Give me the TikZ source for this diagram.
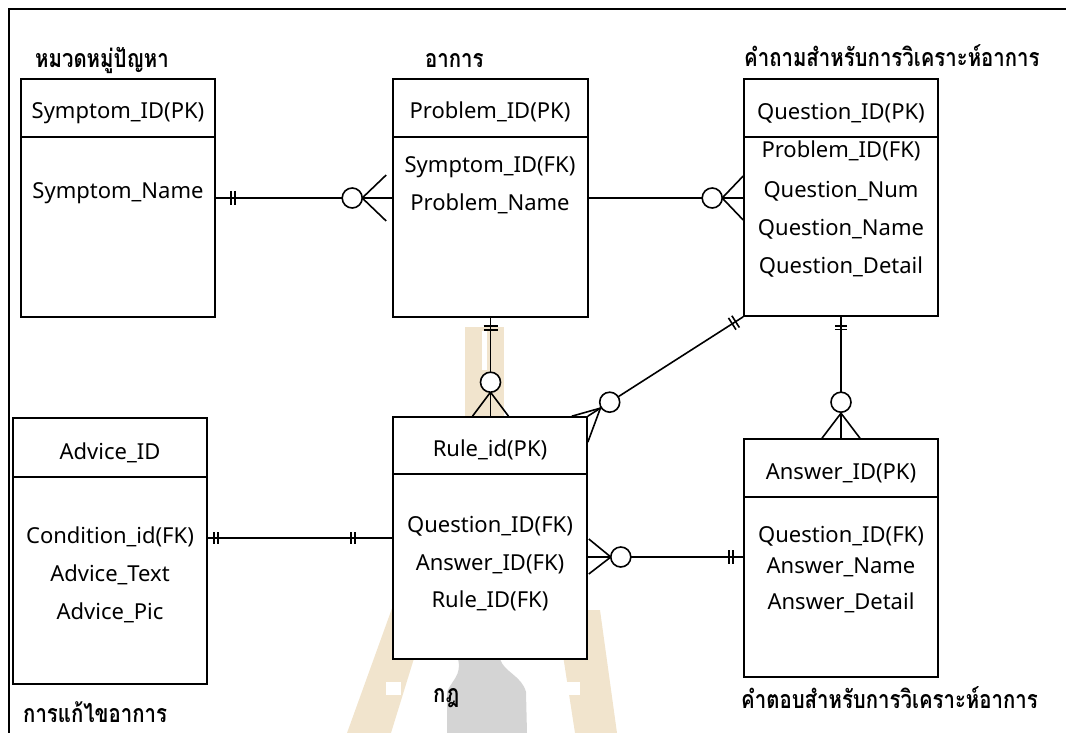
\documentclass[tikz,border=0pt]{standalone}
\usepackage{fontspec}
\usepackage{graphicx}
\setmainfont{Noto Sans}
\newfontfamily\thaifont[Script=Thai]{Loma}
\usetikzlibrary{calc}

\definecolor{wmtan}{RGB}{241,228,205}
\definecolor{wmgray}{RGB}{212,212,212}

% condensed Thai heading text
\newcommand\thaititle[1]{{\thaifont\bfseries\fontsize{25}{30}\selectfont\scalebox{0.815}[1]{#1}}}

\tikzset{
  ent/.style={draw, rectangle, line width=1.6pt, fill=white, inner sep=0pt},
  attr/.style={anchor=base, inner sep=0pt, font=\fontsize{22}{26}\selectfont},
  title/.style={anchor=base west, inner sep=0pt},
  rel/.style={line width=1.6pt},
  ocirc/.style={circle, draw, line width=1.6pt, fill=white, minimum size=20pt, inner sep=0pt},
  frame/.style={line width=2.6pt},
}

\begin{document}
\begin{tikzpicture}[x=1pt, y=-1pt]
\useasboundingbox (0,0) rectangle (1066,733);

% faint emblem in the background
\fill[wmtan] (465,327) rectangle (504,417);
\fill[white] (482,331) rectangle (487,370);
\fill[wmtan] (395,600) -- (432,600) -- (391,733) -- (347,733) -- cycle;
\fill[white] (386,682) rectangle (401,695);
\fill[wmtan] (556,610) -- (600,610) -- (617,733) -- (575,733) -- cycle;
\fill[white] (565,682) rectangle (580,695);
\fill[wmgray] (458,659) -- (500,659) .. controls (504,672) and (522,676) .. (526,692)
  -- (527,733) -- (447,733) -- (447,692) .. controls (452,680) and (462,675) .. cycle;

% outer frame
\draw[frame] (9,733) -- (9,9) -- (1066,9);

% entities
\node[ent, minimum width=194pt, minimum height=238pt] (sym)  at (118,198)   {};
\node[ent, minimum width=195pt, minimum height=238pt] (prob) at (490.5,198) {};
\node[ent, minimum width=194pt, minimum height=237pt] (ques) at (841,197.5) {};
\node[ent, minimum width=194pt, minimum height=266pt] (adv)  at (110,551)   {};
\node[ent, minimum width=194pt, minimum height=242pt] (rule) at (490,538)   {};
\node[ent, minimum width=194pt, minimum height=238pt] (ans)  at (841,558)   {};

% header separators
\draw[rel] ($(sym.north west)+(0,59)$)  -- ($(sym.north east)+(0,59)$);
\draw[rel] ($(prob.north west)+(0,59)$) -- ($(prob.north east)+(0,59)$);
\draw[rel] ($(ques.north west)+(0,59)$) -- ($(ques.north east)+(0,59)$);
\draw[rel] ($(adv.north west)+(0,60)$)  -- ($(adv.north east)+(0,60)$);
\draw[rel] ($(rule.north west)+(0,58)$) -- ($(rule.north east)+(0,58)$);
\draw[rel] ($(ans.north west)+(0,59)$)  -- ($(ans.north east)+(0,59)$);

% entity titles
\node[title] (t-sym)  at (35,68)   {\thaititle{หมวดหมู่ปัญหา}};
\node[title] (t-prob) at (425,68)  {\thaititle{อาการ}};
\node[title] (t-ques) at (744,67)  {\thaititle{คำถามสำหรับการวิเคราะห์อาการ}};
\node[title] (t-adv)  at (23,722)  {\thaititle{การแก้ไขอาการ}};
\node[title] (t-rule) at (433,702) {\thaititle{กฎ}};
\node[title] (t-ans)  at (741,708) {\thaititle{คำตอบสำหรับการวิเคราะห์อาการ}};

% attributes
\node[attr] (sym-1)  at (118,119) {Symptom\_ID(PK)};
\node[attr] (sym-2)  at (118,199) {Symptom\_Name};

\node[attr] (prob-1) at (490,119) {Problem\_ID(PK)};
\node[attr] (prob-2) at (490,172) {Symptom\_ID(FK)};
\node[attr] (prob-3) at (490,210) {Problem\_Name};

\node[attr] (ques-1) at (841,120) {Question\_ID(PK)};
\node[attr] (ques-2) at (841,158) {Problem\_ID(FK)};
\node[attr] (ques-3) at (841,197) {Question\_Num};
\node[attr] (ques-4) at (841,235) {Question\_Name};
\node[attr] (ques-5) at (841,273) {Question\_Detail};

\node[attr] (adv-1)  at (110,459) {Advice\_ID};
\node[attr] (adv-2)  at (110,543) {Condition\_id(FK)};
\node[attr] (adv-3)  at (110,581) {Advice\_Text};
\node[attr] (adv-4)  at (110,619) {Advice\_Pic};

\node[attr] (rule-1) at (490,456) {Rule\_id(PK)};
\node[attr] (rule-2) at (490,532) {Question\_ID(FK)};
\node[attr] (rule-3) at (490,570) {Answer\_ID(FK)};
\node[attr] (rule-4) at (490,607) {Rule\_ID(FK)};

\node[attr] (ans-1)  at (841,479) {Answer\_ID(PK)};
\node[attr] (ans-2)  at (841,542) {Question\_ID(FK)};
\node[attr] (ans-3)  at (841,573) {Answer\_Name};
\node[attr] (ans-4)  at (841,609) {Answer\_Detail};

% symptom group -- problem : one to zero-or-many
\draw[rel] (sym.east) -- (prob.west);
\draw[rel] ($(sym.east)+(15,-7)$) -- ++(0,14);
\draw[rel] ($(sym.east)+(19,-7)$) -- ++(0,14);
\coordinate (f1) at ($(prob.west)+(-30,0)$);
\draw[rel] (f1) -- ($(prob.west)+(-6,-23)$);
\draw[rel] (f1) -- ($(prob.west)+(-6,23)$);
\node[ocirc] (o1) at ($(prob.west)+(-40,0)$) {};

% problem -- question : one to zero-or-many
\coordinate (q2) at (prob.east -| ques.west);
\draw[rel] (prob.east) -- (q2);
\coordinate (f2) at ($(q2)+(-21,0)$);
\draw[rel] (f2) -- ($(q2)+(0,-22)$);
\draw[rel] (f2) -- ($(q2)+(0,22)$);
\node[ocirc] (o2) at ($(q2)+(-31,0)$) {};

% problem -- rule : one to zero-or-many
\coordinate (r3) at (prob.south |- rule.north);
\draw[rel] (prob.south) -- (r3);
\draw[rel] ($(prob.south)+(-7,8)$) -- ++(14,0);
\draw[rel] ($(prob.south)+(-7,12)$) -- ++(14,0);
\coordinate (f3) at ($(r3)+(0,-24)$);
\draw[rel] (f3) -- ($(r3)+(-18,0)$);
\draw[rel] (f3) -- ($(r3)+(18,0)$);
\node[ocirc] (o3) at ($(r3)+(0,-34)$) {};

% question -- rule : one to zero-or-many (diagonal)
\draw[rel] (rule.north east) -- (ques.south west);
\coordinate (f4) at ($(rule.north east)!15pt!(ques.south west)$);
\draw[rel] (f4) -- ($(rule.north east)+(-16,0)$);
\draw[rel] (f4) -- ($(rule.north east)+(0,26)$);
\node[ocirc] (o4) at ($(rule.north east)!26pt!(ques.south west)$) {};
\coordinate (b4a) at ($(ques.south west)!9pt!(rule.north east)$);
\coordinate (b4b) at ($(ques.south west)!13pt!(rule.north east)$);
\draw[rel] ($(b4a)!7pt!90:(rule.north east)$) -- ($(b4a)!7pt!-90:(rule.north east)$);
\draw[rel] ($(b4b)!7pt!90:(rule.north east)$) -- ($(b4b)!7pt!-90:(rule.north east)$);

% question -- answer : one to zero-or-many
\coordinate (a5) at (ques.south |- ans.north);
\draw[rel] (ques.south) -- (a5);
\draw[rel] ($(ques.south)+(-6,9)$) -- ++(12,0);
\draw[rel] ($(ques.south)+(-6,12.5)$) -- ++(12,0);
\coordinate (f5) at ($(a5)+(0,-25)$);
\draw[rel] (f5) -- ($(a5)+(-19,0)$);
\draw[rel] (f5) -- ($(a5)+(19,0)$);
\node[ocirc] (o5) at ($(a5)+(0,-36)$) {};

% advice -- rule : one to one
\coordinate (a6) at (adv.east |- rule.west);
\draw[rel] (a6) -- (rule.west);
\draw[rel] ($(a6)+(6,-6)$) -- ++(0,12);
\draw[rel] ($(a6)+(10,-6)$) -- ++(0,12);
\draw[rel] ($(rule.west)+(-41,-6)$) -- ++(0,12);
\draw[rel] ($(rule.west)+(-37,-6)$) -- ++(0,12);

% rule -- answer : zero-or-many to one
\coordinate (r7) at ($(rule.east)+(0,19)$);
\coordinate (a7) at (r7 -| ans.west);
\draw[rel] (r7) -- (a7);
\coordinate (f7) at ($(r7)+(23,0)$);
\draw[rel] (f7) -- ($(r7)+(1,-18)$);
\draw[rel] (f7) -- ($(r7)+(1,17)$);
\node[ocirc] (o7) at ($(r7)+(33,0)$) {};
\draw[rel] ($(a7)+(-14,-7)$) -- ++(0,14);
\draw[rel] ($(a7)+(-10,-7)$) -- ++(0,14);
\end{tikzpicture}
\end{document}
